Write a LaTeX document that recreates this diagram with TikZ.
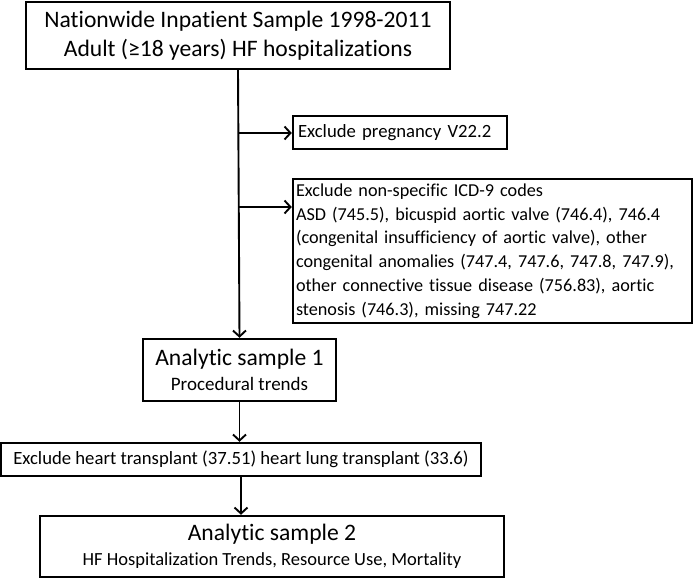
\documentclass[tikz,border=0pt]{standalone}
\usepackage{fontspec}
\setmainfont{Carlito}[Ligatures=NoCommon]
\usetikzlibrary{arrows.meta}

\begin{document}
\begin{tikzpicture}[x=1pt, y=-1pt,
  box/.style={draw, line width=2.4pt, rectangle, inner sep=0pt},
  arr/.style={line width=1.9pt, -{Straight Barb[length=6pt,width=13pt,line width=1.9pt]}},
  bigtext/.style={font=\fontsize{23.6}{29}\selectfont, align=center},
  smalltext/.style={font=\fontsize{18.7}{22}\selectfont},
  codetext/.style={font=\fontsize{18.2}{23.7}\selectfont}
]
\useasboundingbox (0,0) rectangle (694,578);

\node[box, bigtext, minimum width=424pt, minimum height=67pt] (top) at (238,35.5)
  {Nationwide Inpatient Sample 1998-2011\\Adult (≥18 years) HF hospitalizations};

\node[box, smalltext, minimum width=214pt, minimum height=33pt, text width=204pt, align=left] (preg) at (400,132.5)
  {Exclude pregnancy V22.2};

\node[box, codetext, minimum width=399pt, minimum height=144pt, inner xsep=3pt, text width=393pt, align=left] (icd) at (492.5,251)
  {Exclude non-specific ICD-9 codes\\
   ASD (745.5), bicuspid aortic valve (746.4), 746.4\\
   (congenital insufficiency of aortic valve), other\\
   congenital anomalies (747.4, 747.6, 747.8, 747.9),\\
   other connective tissue disease (756.83), aortic\\
   stenosis (746.3), missing 747.22};

\node[box, bigtext, minimum width=193pt, minimum height=62pt] (s1) at (239.5,370)
  {Analytic sample 1\\[-4pt]{\fontsize{19}{23}\selectfont Procedural trends}};

\node[box, smalltext, minimum width=480pt, minimum height=33pt] (heart) at (241,459.5)
  {Exclude heart transplant (37.51) heart lung transplant (33.6)};

\node[box, bigtext, minimum width=464pt, minimum height=61pt] (s2) at (272,546.5)
  {Analytic sample 2\\[-4pt]{\fontsize{18.5}{23}\selectfont HF Hospitalization Trends, Resource Use, Mortality}};

% main spine and side exclusions
\draw[arr] (top.south) -- (s1.north);
\coordinate (b1) at (238,133);
\coordinate (b2) at (238,207);
\draw[arr] (b1) -- (b1 -| preg.west);
\draw[arr] (b2) -- (b2 -| icd.west);

\draw[arr] (s1.south) -- (s1.south |- heart.north);
\draw[arr] (heart.south) -- (heart.south |- s2.north);

\end{tikzpicture}
\end{document}
